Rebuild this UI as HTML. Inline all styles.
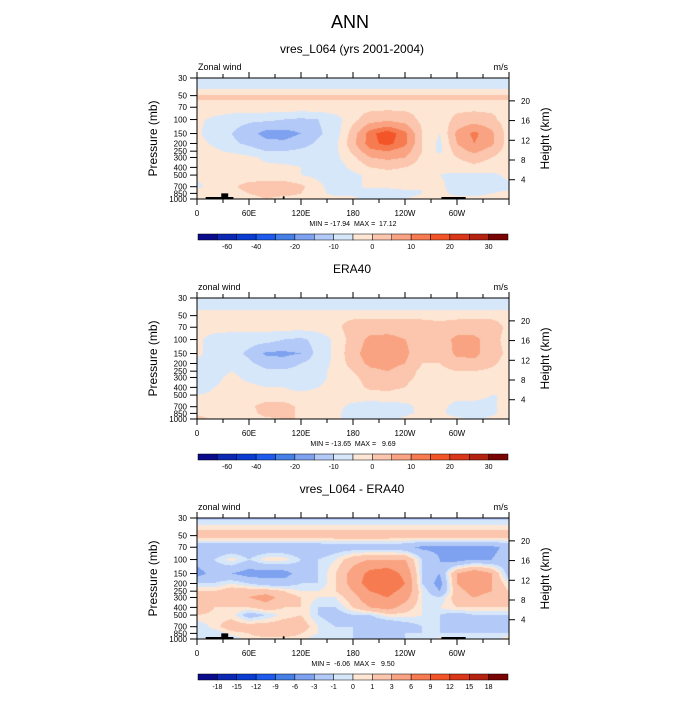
<!DOCTYPE html>
<html><head><meta charset="utf-8">
<style>
body{margin:0;background:#fff;}
svg text{font-family:"Liberation Sans",sans-serif;fill:#000;white-space:pre;}
</style></head>
<body>
<svg id="root" width="700" height="700" xmlns="http://www.w3.org/2000/svg">
<text x="350" y="28" font-size="18" text-anchor="middle">ANN</text>
</svg>
<script>
const lons=[0,20,40,60,80,100,120,140,160,180,200,220,240,260,280,300,320,340,360];
const pres=[30,40,50,70,100,150,200,250,300,400,500,700,850,1000];
const modelU=[
[-3,-3,-3,-3,-3,-3,-3,-3,-3,-3,-3,-3,-3,-3,-3,-3,-3,-3,-3],
[-1,-1,-1,-1,-1,-1,-1,-1,-1,-1,-1,-1,-1,-1,-1,-1,-1,-1,-1],
[4.6,4.6,4.6,4.6,4.6,4.6,4.6,4.6,4.6,4.6,4.6,4.6,4.6,4.6,4.6,4.6,4.6,4.6,4.6],
[3,3,3,3,3,3,3,3,3,3,3,3,3,3,3,3,3,3,3],
[1,-1,-3,-4,-4,-5,-6,-5,-2,3,6,7,6,3,2,5,6,5,2],
[1,-3,-5,-8,-12,-12,-10,-6,-2,6,14,17,13,4,0,9,13,9,2],
[2,-1,-4,-6,-8,-9,-7,-4,-1,7,14,16,13,4,-1,8,12,9,2],
[3,1,-1,-3,-5,-5,-4,-3,-1,5,11,12,10,4,-1,6,9,6,2],
[3,2,3,1,-1,-2,-2,-2,-1,3,8,9,8,3,1,4,6,4,2],
[2,1,4,2,1,1,0,-1,-2,1,4,5,4,2,1,2,3,2,1],
[1,1,1,1,1,1,0,-1,-2,-1,1,2,2,1,0,-1,-1,-1,1],
[-1,2,3,6,7,7,5,1,-2,-1,1,1,1,0,1,-2,-2,-2,-1],
[3,3,2,4,5,5,4,1,-1,-1,-3,-3,-1,0,1,-1,-1,0,1],
[4,2,2,3,4,3,3,2,1,1,-2,-2,0,1,1,1,1,1,2]];
const eraU=[
[-3,-3,-3,-3,-3,-3,-3,-3,-3,-3,-3,-3,-3,-3,-3,-3,-3,-3,-3],
[-1,-1,-1,-1,-1,-1,-1,-1,-1,-1,-1,-1,-1,-1,-1,-1,-1,-1,-1],
[3,3,3,3,3,3,3,3,3,3,3,3,3,3,3,3,3,3,3],
[2,2,2,2,2,2,2,2,3,6,6,6,6,6,5,6,6,6,3],
[1,-2,-3,-3,-3,-5,-6,-3,1,6,9,9.5,8,6,6,9,9,6,2],
[1,-2,-3,-6,-11,-11,-10,-3,1,7,9.5,9.7,9,5,5,9,9,6,3],
[-1,-3,-2,-4,-7,-8,-5,-2,1,6,9,9.5,8,4,4,6,7,5,2],
[-2,-2,0,-2,-4,-4,-3,-1,1,4,7,8,6,3,3,4,4,3,1],
[-3,-1,1,-1,-2,-3,-2,-1,1,3,6,6,5,3,2,3,3,2,0],
[-3,0,1,1,0,0,-1,0,1,2,5,5,4,2,2,2,2,1,0],
[0,1,1,2,1,1,1,1,1,2,2,3,2,2,1,1,1,0,0],
[2,1,1,3,6,6,3,1,1,-1,-2,-2,-1,1,1,-1,-1,-1,2],
[3,2,1,2,6,6,3,1,1,-2,-2,-2,-1,1,1,-2,-1,-1,2],
[6,3,2,1,3,4,4,1,1,-2,-2,-2,1,3,2,1,-1,1,3]];
const diffU=[
[-1.5,-1.5,-1.5,-1.5,-1.5,-1.5,-1.5,-1.5,-1.5,-1.5,-1.5,-1.5,-1.5,-1.5,-1.5,-1.5,-1.5,-1.5,-1.5],
[0.5,0.5,0.5,0.5,0.5,0.5,0.5,0.5,0.5,0.5,0.5,0.5,0.5,0.5,0.5,0.5,0.5,0.5,0.5],
[2,2,2,2,2,2,2,2,2,2,2,2,2,2,2,2,2,2,2],
[-2.5,-2.5,-2.5,-2.5,-2.5,-2.5,-2.5,-2.5,-2,-2,-2,-2,-2.5,-3.5,-3.5,-3.5,-3.5,-3.5,-2.5],
[-2,-1,0.5,-1,0.5,0.5,-1,-1,0,2,3,3,3,-1,-3,-4,-3,-3,-2],
[-4,-2,-3,-4,-4,-4,-2,-1,1,4,7,8,5,-1,-3,3,5,3,-2],
[-1,-1,0,-1,-2,-2,-1,-1,1,4,8,9,6,-1,-4,3,6,3,0],
[1,1,2,2,2,1,0,0,1,3,6,7,5,0,-3,2,4,3,1],
[2,1,2,3,4,2,1,0,0,2,5,6,4,0,-1,2,3,2,1],
[3,1,1,1,2,1,1,-1,-1,1,3,4,2,0,0,1,1,1,1],
[1,0.5,0.5,-2,-1,0.5,1,-1,-2,-1,-1,0.5,0.5,0,-1,-2,-1,-1,-1],
[-1,0.5,2,2,2,2,2,0,-1,-1,-3,-3,-2,-1,-1,-2,-2,-1,-2],
[0,-1,0.5,1,2,2,1,0,-1,-1,-2,-2,-1,-1,-1,-1,-1,-1,-1],
[-1,-1,-1,0.5,0.5,0.5,0.5,-1,-1,-1,-1,-1,-1,-1,0.5,-1,-1,-1,1]];
const levelsAbs=[-50,-40,-30,-20,-15,-10,-5,0,4,8,12,15,20,25,30];
const levelsDiff=[-18,-15,-12,-9,-6,-3,-1,0,1,3,6,9,12,15,18];
const cbLabelsAbs=["-60","-40","-20","-10","0","10","20","30"];
const cbLabelIdxAbs=[0.5,2,4,6,8,10,12,14];
const cbLabelsDiff=["-18","-15","-12","-9","-6","-3","-1","0","1","3","6","9","12","15","18"];
const yTickLabels=["30","50","70","100","150","200","250","300","400","500","700","850","1000"];
const yTickP=[30,50,70,100,150,200,250,300,400,500,700,850,1000];
const xTickLons=[0,60,120,180,240,300];
const xTickLabels=["0","60E","120E","180","120W","60W"];
const hTicks=[20,16,12,8,4];
const topoLon=[[10,42,1000],[28,36,900],[99,101,980],[282,310,1000]];
const colors=["#0a0a8c","#0a28b4","#0a3cd2","#1e5aeb","#467fe6","#7ea2f0","#b3c9f7","#d7e7fa","#fde6d4","#fbc6ad","#f9a382","#f67b50","#f45528","#d9361a","#b42310","#7a0403"];

const NS="http://www.w3.org/2000/svg";
const root=document.getElementById('root');
const PX0=197,PW=312,PH=121;
function mk(tag,attrs,parent){const e=document.createElementNS(NS,tag);for(const k in attrs)e.setAttribute(k,attrs[k]);(parent||root).appendChild(e);return e;}
const lp0=Math.log(30),lp1=Math.log(1000);
function yOfP(top,p){return top+(Math.log(p)-lp0)/(lp1-lp0)*PH;}
function xOfLon(lon){return PX0+lon/360*PW;}
function hToP(h){return 1013*Math.exp(-h/7);}
function sample(grid,lon,p){
  let i=Math.min(Math.floor(lon/20),lons.length-2);let fx=(lon-lons[i])/20;
  const lp=Math.log(p);let j=0;while(j<pres.length-2&&Math.log(pres[j+1])<lp)j++;
  const fy=(lp-Math.log(pres[j]))/(Math.log(pres[j+1])-Math.log(pres[j]));
  const a=grid[j][i]*(1-fx)+grid[j][i+1]*fx,b=grid[j+1][i]*(1-fx)+grid[j+1][i+1]*fx;
  return a*(1-fy)+b*fy;
}
function classify(v,lv){let k=0;while(k<lv.length&&v>=lv[k])k++;return k;}

function panel(top,title,left,grid,lv,minmax,cbLabels,cbIdx,topo,key){
  const g=mk('g',{});
  
  
  const t=mk('text',{x:352,y:top-25,'font-size':12,'text-anchor':'middle'},g);t.textContent=title;
  
  const l=mk('text',{x:198,y:top-8,'font-size':9},g);l.textContent=left;
  
  const u=mk('text',{x:508,y:top-8,'font-size':9,'text-anchor':'end'},g);u.textContent='m/s';
  
  const fo=mk('foreignObject',{x:PX0,y:top,width:PW,height:PH},g);
  const cv=document.createElement('canvas');cv.width=PW;cv.height=PH;cv.style.display='block';
  
  
  fo.appendChild(cv);
  const ctx=cv.getContext('2d');
  for(let y=0;y<PH;y++){const p=Math.exp(lp0+(y+0.5)/PH*(lp1-lp0));
    for(let x=0;x<PW;x++){const lon=(x+0.5)/PW*360;
      ctx.fillStyle=colors[classify(sample(grid,lon,p),lv)];ctx.fillRect(x,y,1,1);}}
  if(topo){topoLon.forEach(tp=>{const r=mk('rect',{x:xOfLon(tp[0]),y:yOfP(top,tp[2])-2,width:xOfLon(tp[1])-xOfLon(tp[0]),height:top+PH-yOfP(top,tp[2])+2,fill:'#000'},g);
    });}
  const fr=mk('rect',{x:PX0,y:top,width:PW,height:PH,fill:'none',stroke:'#000','stroke-width':1},g);
  
  yTickP.forEach((p,i)=>{const y=yOfP(top,p);mk('line',{x1:PX0-7,x2:PX0,y1:y,y2:y,stroke:'#000'},g);
    const tx=mk('text',{x:PX0-10,y:y+3,'font-size':8,'text-anchor':'end'},g);tx.textContent=yTickLabels[i];
    });
  const yt=mk('text',{x:0,y:0,'font-size':12,'text-anchor':'middle',transform:`translate(157,${top+PH/2}) rotate(-90)`},g);yt.textContent='Pressure (mb)';
  
  hTicks.forEach(h=>{const y=yOfP(top,hToP(h));mk('line',{x1:PX0+PW,x2:PX0+PW+6,y1:y,y2:y,stroke:'#000'},g);
    const tx=mk('text',{x:PX0+PW+12,y:y+3,'font-size':8},g);tx.textContent=h;
    });
  const ht=mk('text',{x:0,y:0,'font-size':12,'text-anchor':'middle',transform:`translate(549,${top+PH/2}) rotate(-90)`},g);ht.textContent='Height (km)';
  
  for(let lon=0;lon<=360;lon+=30){const x=xOfLon(lon);const len=lon%60===0?6:4;
    mk('line',{x1:x,x2:x,y1:top+PH,y2:top+PH+len,stroke:'#000'},g);
    mk('line',{x1:x,x2:x,y1:top,y2:top-len,stroke:'#000'},g);}
  xTickLons.forEach((lon,i)=>{const tx=mk('text',{x:xOfLon(lon),y:top+PH+17,'font-size':8,'text-anchor':'middle'},g);tx.textContent=xTickLabels[i];
    });
  const mm=mk('text',{x:353,y:top+PH+27,'font-size':7,'text-anchor':'middle'},g);mm.textContent=minmax;
  
  const cbY=top+PH+35,cbW=310/16;
  colors.forEach((c,k)=>{const r=mk('rect',{x:198+k*cbW,y:cbY,width:cbW,height:6,fill:c,stroke:'#000','stroke-width':0.5},g);
    });
  cbLabels.forEach((s,i)=>{const tx=mk('text',{x:198+(cbIdx[i]+1)*cbW,y:cbY+15,'font-size':7,'text-anchor':'middle'},g);tx.textContent=s;
    });
}
panel(78,'vres_L064 (yrs 2001-2004)','Zonal wind',modelU,levelsAbs,'MIN = -17.94  MAX =  17.12',cbLabelsAbs,cbLabelIdxAbs,true,'model');
panel(298,'ERA40','zonal wind',eraU,levelsAbs,'MIN = -13.65  MAX =   9.69',cbLabelsAbs,cbLabelIdxAbs,false,'era40');
panel(518,'vres_L064 - ERA40','zonal wind',diffU,levelsDiff,'MIN =  -6.06  MAX =   9.50',cbLabelsDiff,cbLabelsDiff.map((_,i)=>i),true,'difference');
</script>
</body></html>
